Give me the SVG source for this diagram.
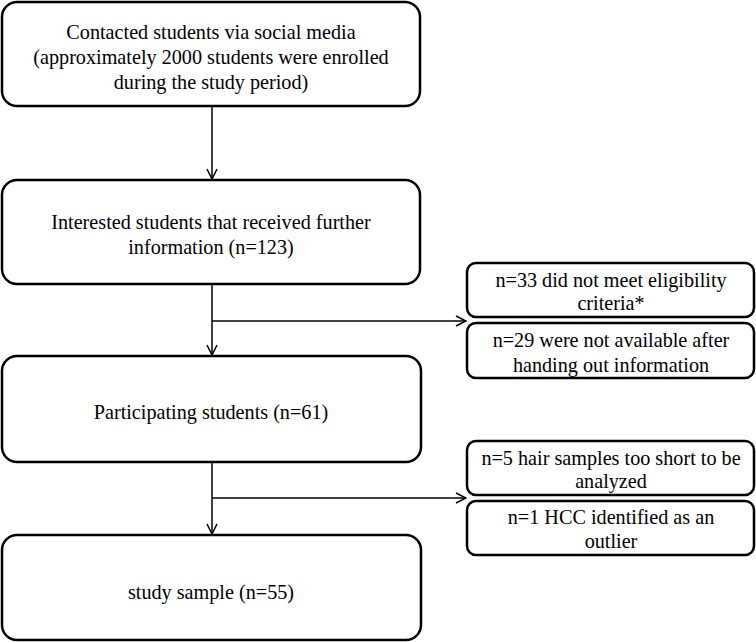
<svg xmlns="http://www.w3.org/2000/svg" width="756" height="642" viewBox="0 0 756 642">
<defs>
<style>
.box{fill:#fff;stroke:#000;stroke-width:2.5}
.t{font-family:"Liberation Serif","Times New Roman",serif;font-size:20.2px;fill:#000;text-anchor:middle}
.c{fill:none;stroke:#000;stroke-width:1.5}
</style>
<marker id="ah" markerWidth="12" markerHeight="12" viewBox="0 0 12 12" refX="11" refY="6" orient="auto" markerUnits="userSpaceOnUse">
<path d="M1,1 L11,6 L1,11" fill="none" stroke="#000" stroke-width="1.5"/>
</marker>
</defs>
<rect width="756" height="642" fill="#fff"/>
<g id="connectors">
<line class="c" x1="212" y1="107" x2="212" y2="179" marker-end="url(#ah)"/>
<line class="c" x1="212" y1="285" x2="212" y2="355" marker-end="url(#ah)"/>
<line class="c" x1="212" y1="321" x2="466" y2="321" marker-end="url(#ah)"/>
<line class="c" x1="212" y1="463" x2="212" y2="534" marker-end="url(#ah)"/>
<line class="c" x1="212" y1="498" x2="466" y2="498" marker-end="url(#ah)"/>
</g>
<g id="n1">
<rect class="box" x="2" y="2" width="418" height="104" rx="15"/>
<text class="t" x="211" y="39">Contacted students via social media</text>
<text class="t" x="211" y="64">(approximately 2000 students were enrolled</text>
<text class="t" x="211" y="89">during the study period)</text>
</g>
<g id="n2">
<rect class="box" x="2" y="180" width="418" height="104" rx="15"/>
<text class="t" x="211" y="229">Interested students that received further</text>
<text class="t" x="211" y="254">information (n=123)</text>
</g>
<g id="n3">
<rect class="box" x="2" y="356" width="419" height="106" rx="15"/>
<text class="t" x="211" y="419">Participating students (n=61)</text>
</g>
<g id="n4">
<rect class="box" x="2" y="535" width="419" height="105" rx="15"/>
<text class="t" x="211" y="599">study sample (n=55)</text>
</g>
<g id="a1">
<rect class="box" x="467" y="263" width="287" height="54" rx="9"/>
<text class="t" x="611" y="287">n=33 did not meet eligibility</text>
<text class="t" x="611" y="310">criteria*</text>
</g>
<g id="a2">
<rect class="box" x="467" y="323" width="287" height="55" rx="9"/>
<text class="t" x="611" y="347">n=29 were not available after</text>
<text class="t" x="611" y="372">handing out information</text>
</g>
<g id="a3">
<rect class="box" x="467" y="441" width="287" height="54" rx="9"/>
<text class="t" x="611" y="465">n=5 hair samples too short to be</text>
<text class="t" x="611" y="488">analyzed</text>
</g>
<g id="a4">
<rect class="box" x="467" y="501" width="287" height="54" rx="9"/>
<text class="t" x="611" y="524">n=1 HCC identified as an</text>
<text class="t" x="611" y="548">outlier</text>
</g>
</svg>
